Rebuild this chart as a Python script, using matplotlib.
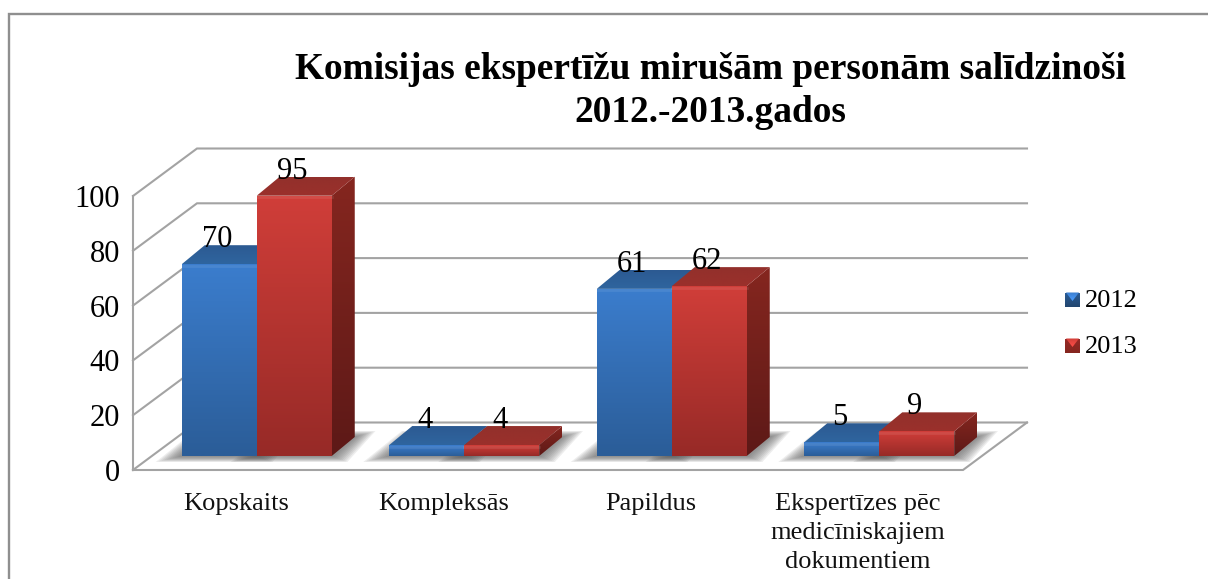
import numpy as np
import matplotlib
matplotlib.use('Agg')
import matplotlib.pyplot as plt
from matplotlib.patches import Polygon

plt.rcParams['font.family'] = ['Liberation Serif', 'DejaVu Serif']

categories = ['Kopskaits', 'Kompleksās', 'Papildus', 'Ekspertīzes pēc\nmedicīniskajiem\ndokumentiem']
series_names = ['2012', '2013']
values_2012 = [70, 4, 61, 5]
values_2013 = [95, 4, 62, 9]
y_ticks = [0, 20, 40, 60, 80, 100]
title = 'Komisijas ekspertīžu mirušām personām salīdzinoši\n2012.-2013.gados'

W, H = 1208, 579
GRAY = '#a3a3a3'

# scale of the chart in pixels
X0, Y0 = 133, 470
PX_CAT = 207.5
PX_VAL = 2.74
DEPTH_X, DEPTH_Y = 64 / PX_CAT, 47.5 / PX_VAL     # floor depth in data units
BAR_W = 75 / PX_CAT
BAR_SHIFT_X, BAR_SHIFT_Y = 20 / PX_CAT, 14 / PX_VAL
BAR_DX, BAR_DY = 23 / PX_CAT, 19 / PX_VAL

fig = plt.figure(figsize=(W / 100, H / 100), dpi=100)
deco = fig.add_axes([0, 0, 1, 1])
deco.set_xlim(0, W)
deco.set_ylim(H, 0)
deco.axis('off')
ax = fig.add_axes([0, 0, 1, 1])
ax.set_xlim(-X0 / PX_CAT, (W - X0) / PX_CAT)
ax.set_ylim((Y0 - H) / PX_VAL, Y0 / PX_VAL)
ax.axis('off')
ax.patch.set_alpha(0)


def grad_poly(axes, pts, top, bottom, z):
    # polygon filled with a vertical gradient
    pts = np.array(pts)
    x1, x2 = pts[:, 0].min(), pts[:, 0].max()
    y1, y2 = pts[:, 1].min(), pts[:, 1].max()
    c1 = np.array(matplotlib.colors.to_rgb(top))
    c2 = np.array(matplotlib.colors.to_rgb(bottom))
    t = np.linspace(0, 1, 64)[:, None]
    img = (c1 * (1 - t) + c2 * t)[:, None, :]
    im = axes.imshow(img, extent=[x1, x2, y2, y1] if axes is deco else [x1, x2, y1, y2],
                     origin='upper', aspect='auto', zorder=z, interpolation='bilinear')
    patch = Polygon(pts, closed=True, transform=axes.transData, fc='none', ec='none')
    axes.add_patch(patch)
    im.set_clip_path(patch)


# frame
deco.plot([8.5, 8.5, W], [H, 14, 14], color='#8f8f8f', lw=1.7, solid_joinstyle='miter')

# walls and floor
for v in y_ticks:
    ax.plot([0, DEPTH_X, 4 + DEPTH_X], [v, v + DEPTH_Y, v + DEPTH_Y], color=GRAY, lw=1.5, zorder=1,
            solid_joinstyle='miter')
ax.plot([0, 0], [0, 100], color=GRAY, lw=1.5, zorder=1)
ax.plot([0, 4, 4 + DEPTH_X], [0, 0, DEPTH_Y], color=GRAY, lw=1.5, zorder=1, solid_joinstyle='miter')

# tick labels
for v in y_ticks:
    ax.text(-13 / PX_CAT, v - 3.5 / PX_VAL, str(v), ha='right', va='center', fontsize=22, color='black')
for i, c in enumerate(categories):
    ax.text(i + 0.5 - 0.005, -8.4, c, ha='center', va='top', fontsize=19, color='#111111', linespacing=1.42)

blue = dict(front=('#3b7dcd', '#2b5d98'), top=('#2c5a92', '#2f659f'), side=('#22466f', '#1b3859'))
red = dict(front=('#d03e39', '#972a27'), top=('#92302b', '#9b302c'), side=('#85261f', '#5d1917'))


def draw_bar(left, v, st, z, label):
    base = BAR_SHIFT_Y
    top = base + v
    right = left + BAR_W
    # soft shadow on the floor
    for g in np.linspace(1, 0, 9):
        ex = (4 + 22 * g) / PX_CAT
        ey = (1 + 5 * g) / PX_VAL
        ax.add_patch(Polygon([(left - ex, base - ey), (right + ex * 0.6, base - ey),
                              (right + BAR_DX + ex * 0.8, base + BAR_DY + ey),
                              (left + BAR_DX - ex * 0.4, base + BAR_DY + ey)],
                             closed=True, fc='#555555', ec='none', alpha=0.1, zorder=1.5))
    grad_poly(ax, [(right, base), (right + BAR_DX, base + BAR_DY), (right + BAR_DX, top + BAR_DY), (right, top)],
              st['side'][0], st['side'][1], z)
    grad_poly(ax, [(left, top), (right, top), (right + BAR_DX, top + BAR_DY), (left + BAR_DX, top + BAR_DY)],
              st['top'][0], st['top'][1], z)
    grad_poly(ax, [(left, base), (right, base), (right, top), (left, top)],
              st['front'][0], st['front'][1], z + 0.1)
    # light rim along the top of the front face
    ax.plot([left, right], [top - 1.5 / PX_VAL, top - 1.5 / PX_VAL], color='white', alpha=0.08, lw=2,
            zorder=z + 0.2)
    ax.text(left + BAR_W / 2 - 2 / PX_CAT, top + 24.5 / PX_VAL, str(label), ha='center', va='center',
            fontsize=22, color='black', zorder=20)


for i in range(len(categories)):
    mid = i + 0.5 + BAR_SHIFT_X
    draw_bar(mid - BAR_W, values_2012[i], blue, 3 + i, values_2012[i])
    draw_bar(mid, values_2013[i], red, 3.5 + i, values_2013[i])

ax.set_xlim(-X0 / PX_CAT, (W - X0) / PX_CAT)
ax.set_ylim((Y0 - H) / PX_VAL, Y0 / PX_VAL)

# legend
for name, st, ly in zip(series_names, [blue, red], [300, 346]):
    x, y = 1065, ly
    s = 15
    grad_poly(deco, [(x, y - s / 2), (x + s, y - s / 2), (x + s, y + s / 2), (x, y + s / 2)],
              st['front'][1], st['side'][0], 3)
    hi = np.minimum(1, np.array(matplotlib.colors.to_rgb(st['front'][0])) * 1.25)
    grad_poly(deco, [(x + 1, y - s / 2), (x + s - 1, y - s / 2), (x + s / 2, y + 1)],
              st['front'][0], matplotlib.colors.to_hex(hi), 4)
    deco.text(x + 20, y + 1, name, ha='left', va='center', fontsize=19, color='black')
deco.set_xlim(0, W)
deco.set_ylim(H, 0)

# title
deco.text(710, 91, title, ha='center', va='center', fontsize=26.9, fontweight='bold', color='black',
          linespacing=1.28)

fig.savefig('out.png', dpi=100)
